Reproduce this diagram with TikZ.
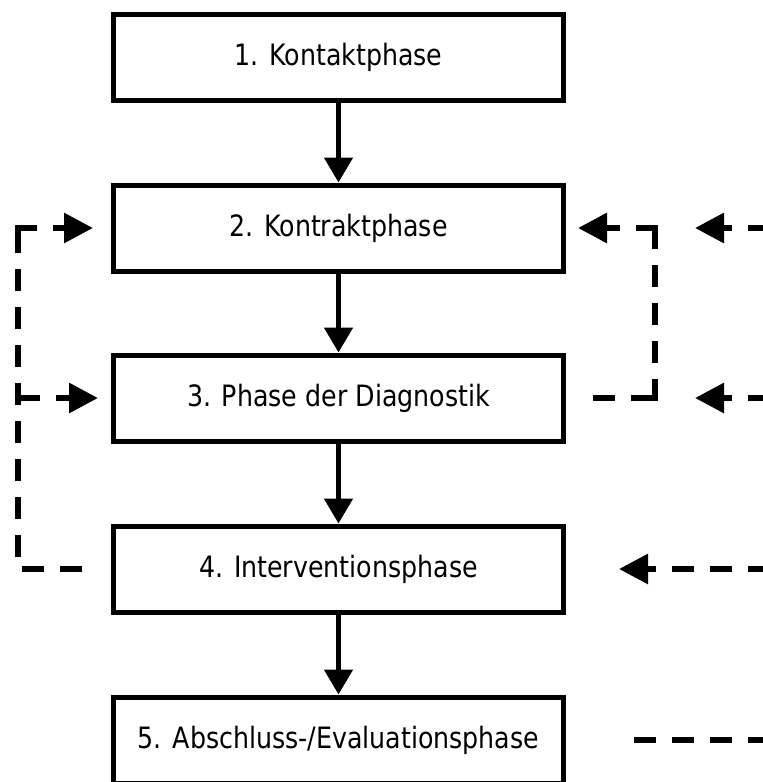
\documentclass[tikz,border=0pt]{standalone}
\usepackage{fontspec}
\newfontfamily\labelfont{DejaVu Sans}[FakeStretch=0.86]
\usetikzlibrary{arrows.meta,calc}
\begin{document}
\begin{tikzpicture}[x=1pt,y=-1pt,
  stage/.style={draw,line width=5pt,minimum width=450pt,minimum height=86pt,
    inner sep=0pt,font=\labelfont\fontsize{29.4}{35}\selectfont},
  flowarrow/.style={line width=5pt,-{Triangle[length=25pt,width=28pt]}},
  fb/.style={line width=6pt,dash pattern=on 22pt off 16pt},
  fbarrow/.style={fb,-{Triangle[length=29pt,width=29pt]}}]

\useasboundingbox (0,0) rectangle (763,782);
\fill[white] (0,0) rectangle (763,782);
\clip (0,0) rectangle (763,782);

% the five phases
\node[stage] (b1) at (338.5,57.5) {1. Kontaktphase};
\node[stage] (b2) at (338.5,228) {2. Kontraktphase};
\node[stage] (b3) at (338.5,398) {3. Phase der Diagnostik};
\node[stage] (b4) at (338.5,569) {4. Interventionsphase};
\node[stage] (b5) at (338.5,740) {5. Abschluss-/Evaluationsphase};

% main sequence
\draw[flowarrow] (b1) -- (b2);
\draw[flowarrow] (b2) -- (b3);
\draw[flowarrow] (b3) -- (b4);
\draw[flowarrow] (b4) -- (b5);

% left feedback loop: from phase 4 back to phases 2 and 3
\coordinate (lb) at ($(b4.west)+(-29,0)$);
\coordinate (lc1) at (18,569);
\coordinate (lc2) at (18,228);
\coordinate (lm) at (18,398);
\draw[fb] (lb) -- (lc1) -- (lc2);
\draw[fbarrow] ($(lc2)+(-3,0)$) -- ($(b2.west)+(-18,0)$);
\draw[fbarrow] (lm) -- ($(b3.west)+(-13,0)$);

% right feedback loop: from phase 3 back to phase 2
\coordinate (rc1) at (655,398);
\coordinate (rc2) at (655,228);
\draw[fb] ($(b3.east)+(27,0)$) -- (rc1);
\draw[fb] ($(rc1)+(0,3)$) -- (rc2);
\draw[fbarrow] ($(rc2)+(3,0)$) -- ($(b2.east)+(12,0)$);

% incoming lines from the right edge
\coordinate (r2) at (770,228);
\coordinate (r3) at (770,398);
\coordinate (r4) at (770,569);
\coordinate (r5) at (770,740);
\draw[fbarrow] (r2) -- ($(b2.east)+(129,0)$);
\draw[fbarrow] (r3) -- ($(b3.east)+(129,0)$);
\draw[fbarrow] (r4) -- ($(b4.east)+(53,0)$);
\draw[fb] (r5) -- ($(b5.east)+(68,0)$);
\end{tikzpicture}
\end{document}
